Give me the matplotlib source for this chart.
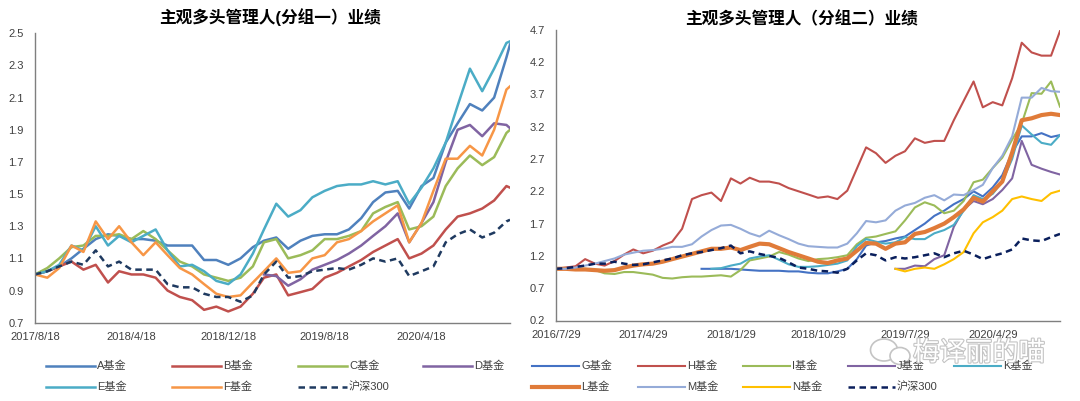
import matplotlib
matplotlib.use('Agg')
import matplotlib.pyplot as plt
import matplotlib.patches as patches
import matplotlib.patheffects as pe
from matplotlib.lines import Line2D
import numpy as np
import pandas as pd

plt.rcParams['font.family'] = ['Liberation Sans', 'Noto Sans CJK SC']
nan = np.nan

# --- left panel data (monthly from 2017/8/18, last point 2020/11/27) ---
L_START, L_MONTHS, L_END = '2017-08-18', 40, '2020-11-27'
fund_a = [1.00,1.02,1.05,1.10,1.16, 1.22,1.25,1.24,1.22,1.22, 1.21,1.18,1.18,1.18,1.09,
          1.09,1.06,1.10,1.17,1.21, 1.23,1.16,1.21,1.24,1.25, 1.25,1.28,1.35,1.45,1.51,
          1.52,1.41,1.55,1.60,1.82, 1.94,2.06,2.02,2.10,2.35, 2.43]
fund_b = [1.00,1.02,1.05,1.08,1.03, 1.06,0.95,1.02,1.00,1.00, 0.98,0.90,0.86,0.84,0.78,
          0.80,0.77,0.80,0.88,0.98, 1.00,0.87,0.89,0.91,0.98, 1.01,1.05,1.09,1.14,1.18,
          1.22,1.10,1.13,1.18,1.28, 1.36,1.38,1.41,1.46,1.55, 1.54]
fund_c = [1.00,1.04,1.10,1.17,1.18, 1.24,1.24,1.25,1.22,1.27, 1.22,1.15,1.08,1.05,1.00,
          0.98,0.96,0.98,1.05,1.20, 1.22,1.10,1.12,1.15,1.22, 1.22,1.24,1.27,1.38,1.42,
          1.45,1.28,1.30,1.36,1.55, 1.66,1.74,1.68,1.73,1.88, 1.90]
fund_d = [nan]*19 + [1.00,0.99,0.93,0.97,1.03, 1.06,1.09,1.13,1.18,1.24, 1.30,1.38,1.20,1.32,1.45,
                     1.70,1.90,1.93,1.86,1.94, 1.93, 1.91]
fund_e = [1.00,1.02,1.06,1.18,1.15, 1.30,1.18,1.24,1.20,1.24, 1.28,1.15,1.05,1.06,1.02,
          0.96,0.94,1.00,1.13,1.28, 1.44,1.36,1.40,1.48,1.52, 1.55,1.56,1.56,1.58,1.56,
          1.58,1.44,1.54,1.66,1.82, 2.05,2.28,2.14,2.28,2.44, 2.45]
fund_f = [1.00,0.98,1.04,1.18,1.14, 1.33,1.22,1.30,1.20,1.12, 1.20,1.12,1.04,1.00,0.94,
          0.88,0.86,0.87,0.95,1.02, 1.10,1.01,1.02,1.10,1.12, 1.20,1.22,1.27,1.33,1.38,
          1.43,1.20,1.32,1.52,1.72, 1.72,1.80,1.74,1.90,2.15, 2.17]
hs300_l = [1.00,1.02,1.05,1.08,1.06, 1.15,1.05,1.08,1.03,1.03, 1.03,0.94,0.92,0.92,0.88,
           0.86,0.86,0.83,0.87,1.00, 1.08,0.98,0.99,1.02,1.03, 1.04,1.03,1.06,1.10,1.08,
           1.10,0.99,1.02,1.05,1.20, 1.25,1.28,1.23,1.26,1.33, 1.34]
L_NAMES = ['A基金', 'B基金', 'C基金', 'D基金', 'E基金', 'F基金', '沪深300']
L_TICKS = ['2017-08-18', '2018-04-18', '2018-12-18', '2019-08-18', '2020-04-18']
L_YTICKS = [0.7, 0.9, 1.1, 1.3, 1.5, 1.7, 1.9, 2.1, 2.3, 2.5]

# --- right panel data (monthly from 2016/7/29, last point 2020/11/26) ---
R_START, R_MONTHS, R_END = '2016-07-29', 52, '2020-11-26'
fund_g = [nan]*15 + [1.00,1.00,1.00,1.00,0.99, 0.98,0.97,0.97,0.97,0.96, 0.96,0.94,0.93,0.93,0.96,
                     1.00,1.15,1.36,1.41,1.43, 1.47,1.50,1.60,1.70,1.82, 1.90,2.00,2.08,2.20,2.12,
                     2.26,2.45,2.80,3.05,3.05, 3.10,3.04, 3.07]
fund_h = [1.00,1.02,1.04,1.15,1.08, 1.05,1.12,1.22,1.30,1.24, 1.28,1.36,1.42,1.62,2.08,
          2.14,2.18,2.05,2.40,2.32, 2.41,2.35,2.35,2.32,2.25, 2.20,2.15,2.10,2.12,2.08,
          2.21,2.55,2.88,2.79,2.64, 2.75,2.82,3.02,2.95,2.98, 2.98,3.30,3.60,3.90,3.50,
          3.58,3.53,3.95,4.50,4.35, 4.30,4.30, 4.68]
fund_i = [1.00,1.00,1.01,1.00,0.98, 0.93,0.92,0.95,0.95,0.93, 0.91,0.86,0.85,0.87,0.88,
          0.88,0.89,0.90,0.88,0.98, 1.13,1.16,1.19,1.26,1.22, 1.16,1.12,1.15,1.16,1.18,
          1.21,1.38,1.48,1.50,1.54, 1.58,1.75,1.95,2.03,1.98, 1.86,1.90,2.05,2.34,2.38,
          2.56,2.72,3.00,3.25,3.72, 3.71,3.90, 3.51]
fund_j = [nan]*35 + [1.00,1.00,1.05,1.04,1.15, 1.21,1.65,1.92,2.05,2.00, 2.08,2.22,2.40,2.98,2.61,
                     2.55,2.50, 2.46]
fund_k = [nan]*16 + [1.00,1.01,1.05,1.08,1.16, 1.19,1.21,1.14,1.07,1.03, 1.03,1.04,1.06,1.08,1.13,
                     1.35,1.46,1.42,1.39,1.41, 1.49,1.46,1.46,1.55,1.60, 1.68,1.90,2.14,2.08,2.16,
                     2.35,2.70,3.22,3.08,2.95, 2.92, 3.07]
fund_l = [1.00,1.00,0.99,0.99,0.98, 0.97,0.98,1.02,1.05,1.07, 1.08,1.11,1.15,1.19,1.23,
          1.27,1.31,1.31,1.33,1.29, 1.34,1.39,1.38,1.32,1.26, 1.21,1.16,1.11,1.09,1.13,
          1.16,1.28,1.40,1.39,1.31, 1.39,1.41,1.54,1.57,1.63, 1.70,1.80,1.92,2.10,2.04,
          2.20,2.35,2.80,3.30,3.33, 3.38,3.40, 3.38]
fund_m = [1.00,1.00,1.02,1.05,1.08, 1.12,1.16,1.22,1.25,1.28, 1.29,1.31,1.34,1.34,1.38,
          1.50,1.60,1.67,1.68,1.62, 1.55,1.50,1.59,1.52,1.46, 1.39,1.35,1.34,1.33,1.33,
          1.39,1.55,1.74,1.72,1.75, 1.90,1.98,2.02,2.10,2.14, 2.06,2.15,2.14,2.22,2.30,
          2.56,2.75,3.05,3.65,3.65, 3.80,3.75, 3.74]
fund_n = [nan]*35 + [1.00,0.96,1.00,1.02,1.00, 1.07,1.15,1.26,1.55,1.72, 1.80,1.90,2.08,2.12,2.08,
                     2.05,2.17, 2.21]
hs300_r = [1.00,1.01,1.03,1.05,1.08, 1.08,1.11,1.08,1.06,1.07, 1.10,1.13,1.16,1.21,1.24,
           1.26,1.29,1.32,1.36,1.24, 1.27,1.23,1.20,1.17,1.10, 1.02,1.00,0.97,0.96,0.94,
           1.00,1.13,1.24,1.21,1.13, 1.18,1.16,1.18,1.21,1.24, 1.18,1.24,1.28,1.22,1.15,
           1.20,1.24,1.30,1.47,1.44, 1.43,1.49, 1.54]
R_NAMES = ['G基金', 'H基金', 'I基金', 'J基金', 'K基金', 'L基金', 'M基金', 'N基金', '沪深300']
R_TICKS = ['2016-07-29', '2017-04-29', '2018-01-29', '2018-10-29', '2019-07-29', '2020-04-29']
R_YTICKS = [0.2, 0.7, 1.2, 1.7, 2.2, 2.7, 3.2, 3.7, 4.2, 4.7]


def month_dates(start, n, end):
    s = pd.Timestamp(start)
    return [s + pd.DateOffset(months=i) for i in range(n)] + [pd.Timestamp(end)]


dates_l = month_dates(L_START, L_MONTHS, L_END)
dates_r = month_dates(R_START, R_MONTHS, R_END)

# --- styles ---
TXT = '#404040'
AXC = '#7f7f7f'
NAVY_L, NAVY_R = '#1F3A60', '#0A1F5C'
l_styles = [('#4F81BD', '-', 1.8), ('#C0504D', '-', 1.8), ('#9BBB59', '-', 1.8), ('#8064A2', '-', 1.8),
            ('#4BACC6', '-', 1.8), ('#F79646', '-', 1.8), (NAVY_L, (0, (2.6, 1.8)), 1.8)]
r_styles = [('#4472C4', '-', 1.5), ('#C0504D', '-', 1.5), ('#9BBB59', '-', 1.5), ('#8064A2', '-', 1.5),
            ('#4BACC6', '-', 1.5), ('#E07B39', '-', 3.0), ('#95ABD8', '-', 1.5), ('#FFC000', '-', 1.5),
            (NAVY_R, (0, (2.6, 1.8)), 1.8)]

W, H = 1080, 401
fig = plt.figure(figsize=(W / 100, H / 100), dpi=100)
fig.patch.set_facecolor('white')


def px_axes(x0, y0, x1, y1):
    return fig.add_axes([x0 / W, 1 - y1 / H, (x1 - x0) / W, (y1 - y0) / H])


def style_axes(ax, dates, ticks, yticks):
    for s in ['top', 'right']:
        ax.spines[s].set_visible(False)
    for s in ['left', 'bottom']:
        ax.spines[s].set_color(AXC)
        ax.spines[s].set_linewidth(1.0)
    ax.set_xlim(dates[0], dates[-1])
    ax.set_ylim(yticks[0], yticks[-1])
    ax.set_yticks(yticks)
    ax.set_yticklabels([f'{v:.1f}' for v in yticks])
    tk = [pd.Timestamp(t) for t in ticks]
    ax.set_xticks(tk)
    ax.set_xticklabels([f'{t.year}/{t.month}/{t.day}' for t in tk])
    ax.tick_params(axis='both', length=0, labelsize=8, colors=TXT)
    ax.tick_params(axis='y', pad=8)
    ax.tick_params(axis='x', pad=7)


def draw_legend(names, styles, x0s, rows, handle_w):
    ncol = len(x0s)
    for i, (name, (c, ls, lw)) in enumerate(zip(names, styles)):
        x0 = x0s[i % ncol]
        y = 1 - rows[i // ncol] / H
        fig.add_artist(Line2D([x0 / W, (x0 + handle_w) / W], [y, y], color=c, ls=ls, lw=lw,
                              transform=fig.transFigure))
        fig.text((x0 + handle_w + 2) / W, y, name, fontsize=8, color=TXT, ha='left', va='center')


# --- left panel ---
ax1 = px_axes(35, 33.3, 510, 322.7)
for vals, (c, ls, lw) in zip([fund_a, fund_b, fund_c, fund_d, fund_e, fund_f, hs300_l], l_styles):
    ax1.plot(dates_l, vals, color=c, ls=ls, lw=lw)
style_axes(ax1, dates_l, L_TICKS, L_YTICKS)
fig.text(270 / W, 1 - 17 / H, '主观多头管理人(分组一）业绩', fontsize=12, fontweight='bold',
         ha='center', va='center', color='black')
draw_legend(L_NAMES, l_styles, [46, 172, 298, 423], [366, 387], 49)

# --- right panel ---
ax2 = px_axes(555.8, 29.8, 1060, 320.5)
r_series = [fund_g, fund_h, fund_i, fund_j, fund_k, fund_l, fund_m, fund_n, hs300_r]
for vals, (c, ls, lw) in zip(r_series, r_styles):
    ax2.plot(dates_r, vals, color=c, ls=ls, lw=lw)
style_axes(ax2, dates_r, R_TICKS, R_YTICKS)
fig.text(801 / W, 1 - 19 / H, '主观多头管理人（分组二）业绩', fontsize=12, fontweight='bold',
         ha='center', va='center', color='black')
draw_legend(R_NAMES, r_styles, [532, 638, 743, 848, 954], [366, 387], 47)

# --- watermark ---
wm = '#c4c4c4'
fig.add_artist(patches.Ellipse((884 / W, 1 - 350 / H), 27 / W, 22 / H, transform=fig.transFigure,
                               facecolor='white', edgecolor=wm, lw=1.2))
fig.add_artist(patches.Ellipse((900 / W, 1 - 356 / H), 20 / W, 17 / H, transform=fig.transFigure,
                               facecolor='white', edgecolor=wm, lw=1.2))
fig.text(979 / W, 1 - 353 / H, '梅译丽的喵', fontsize=19, color='white', ha='center', va='center',
         family=['Noto Sans CJK SC'],
         path_effects=[pe.withStroke(linewidth=1.6, foreground=wm)])

fig.savefig('out.png', dpi=100, facecolor='white')
plt.close(fig)
